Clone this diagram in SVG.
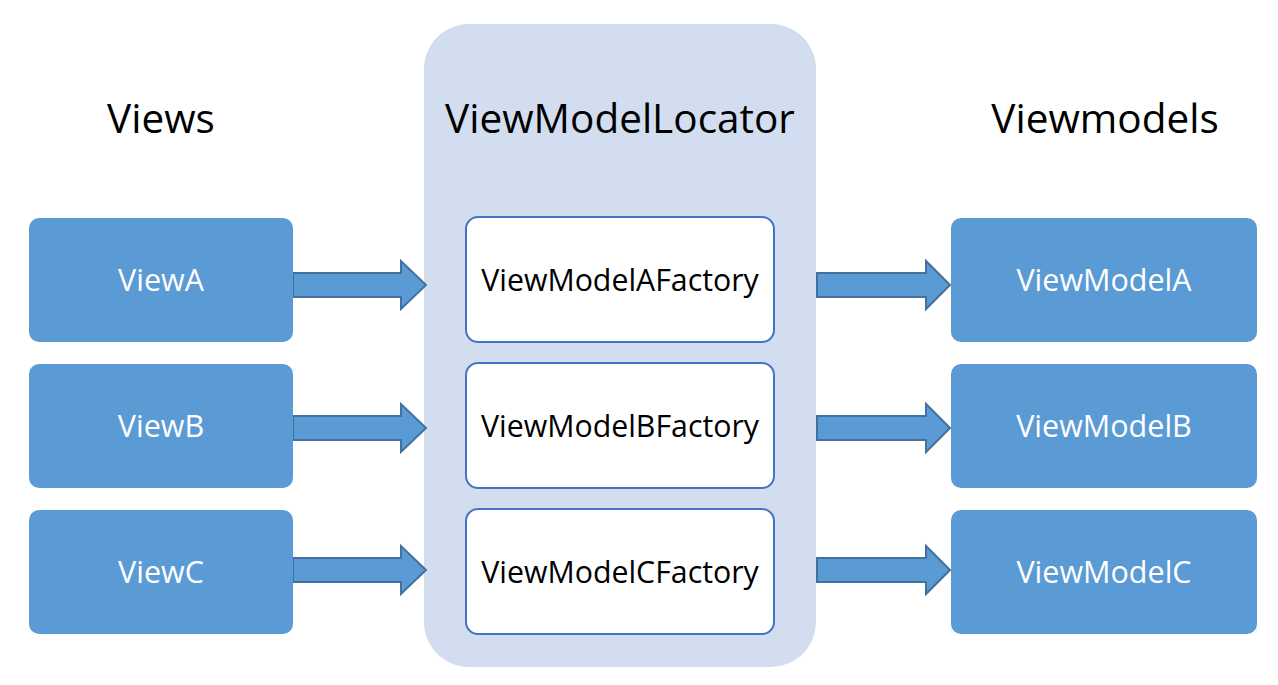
<svg xmlns="http://www.w3.org/2000/svg" width="1278" height="685" viewBox="0 0 1278 685">
<style>
.t{font-family:"Open Sans","Noto Sans","Liberation Sans",sans-serif;text-anchor:middle}
.h{font-size:40.5px;fill:#000}
.w{font-size:30.5px;fill:#fff}
.k{font-size:30.3px;fill:#000}
.box{fill:#5B9BD5}
.fac{fill:#fff;stroke:#4472C4;stroke-width:2}
.arr{fill:#5B9BD5;stroke:#41719C;stroke-width:2}
</style>
<defs>
<path id="ar" d="M0,-12 H108 V-24 L133,0 L108,24 V12 H0 Z"/>
</defs>
<rect x="424" y="24" width="392" height="643" rx="45" fill="#D2DEEF"/>
<text class="t h" x="161" y="133">Views</text>
<text class="t h" x="620" y="133">ViewModelLocator</text>
<text class="t h" x="1105" y="133">Viewmodels</text>
<g id="connectors">
<use href="#ar" class="arr" x="293" y="285"/>
<use href="#ar" class="arr" x="293" y="428"/>
<use href="#ar" class="arr" x="293" y="570"/>
<g transform="translate(817,285)"><path d="M0,-12 H109 V-24 L133,0 L109,24 V12 H0 Z" class="arr"/></g>
<g transform="translate(817,428)"><path d="M0,-12 H109 V-24 L133,0 L109,24 V12 H0 Z" class="arr"/></g>
<g transform="translate(817,570)"><path d="M0,-12 H109 V-24 L133,0 L109,24 V12 H0 Z" class="arr"/></g>
</g>
<g id="viewA"><rect class="box" x="29" y="218" width="264" height="124" rx="10"/><text class="t w" x="161" y="291">ViewA</text></g>
<g id="viewB"><rect class="box" x="29" y="364" width="264" height="124" rx="10"/><text class="t w" x="161" y="437">ViewB</text></g>
<g id="viewC"><rect class="box" x="29" y="510" width="264" height="124" rx="10"/><text class="t w" x="161" y="583">ViewC</text></g>
<g id="facA"><rect class="fac" x="466" y="217" width="308" height="125" rx="12"/><text class="t k" x="620" y="291">ViewModelAFactory</text></g>
<g id="facB"><rect class="fac" x="466" y="363" width="308" height="125" rx="12"/><text class="t k" x="620" y="437">ViewModelBFactory</text></g>
<g id="facC"><rect class="fac" x="466" y="509" width="308" height="125" rx="12"/><text class="t k" x="620" y="583">ViewModelCFactory</text></g>
<g id="vmA"><rect class="box" x="951" y="218" width="306" height="124" rx="10"/><text class="t w" x="1104" y="291">ViewModelA</text></g>
<g id="vmB"><rect class="box" x="951" y="364" width="306" height="124" rx="10"/><text class="t w" x="1104" y="437">ViewModelB</text></g>
<g id="vmC"><rect class="box" x="951" y="510" width="306" height="124" rx="10"/><text class="t w" x="1104" y="583">ViewModelC</text></g>
</svg>
